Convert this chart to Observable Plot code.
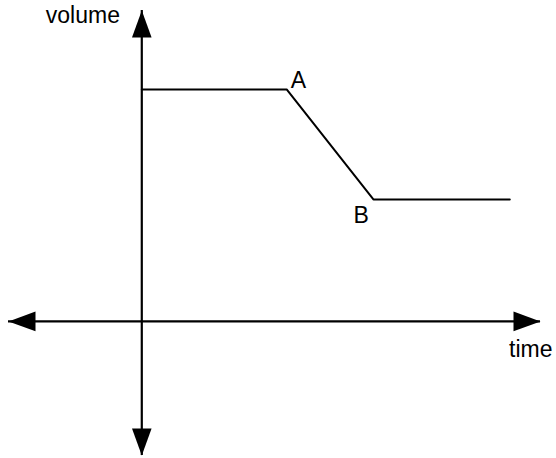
<!DOCTYPE html>
<html>
<head>
<meta charset="utf-8">
<script src="https://cdn.jsdelivr.net/npm/d3@7"></script>
<script src="https://cdn.jsdelivr.net/npm/@observablehq/plot@0.6"></script>
<style>
  html, body { margin: 0; padding: 0; background: #fff; }
  svg { display: block; }
</style>
</head>
<body>
<div id="chart"></div>
<script>
// Data (abstract units; origin where axes cross)
const times = [0, 5, 8, 12.7];
const volumes = [10, 10, 5.25, 5.25];
const pointLabels = ["", "A", "B", ""];
const timeAxis = [-4.6, 13.76];    // left arrow tip, right arrow tip
const volumeAxis = [-5.78, 13.4];  // bottom arrow tip, top arrow tip
const axisTitles = ["time", "volume"];

const series = times.map((t, i) => ({time: t, volume: volumes[i], label: pointLabels[i]}));

// Filled triangular arrowheads, tip at the anchor point
function head(dir) {
  const L = 27, W = 9.8;
  return {
    draw(ctx) {
      ctx.moveTo(0, 0);
      if (dir === "up") { ctx.lineTo(-W, L); ctx.lineTo(W, L); }
      else if (dir === "down") { ctx.lineTo(-W, -L); ctx.lineTo(W, -L); }
      else if (dir === "left") { ctx.lineTo(L, -W); ctx.lineTo(L, W); }
      else { ctx.lineTo(-L, -W); ctx.lineTo(-L, W); }
      ctx.closePath();
    }
  };
}

const font = "'Liberation Sans', Arial, Helvetica, sans-serif";

const chart = Plot.plot({
  width: 556,
  height: 458,
  marginLeft: 8,
  marginRight: 16,
  marginTop: 10,
  marginBottom: 3,
  x: {type: "linear", domain: timeAxis, axis: null},
  y: {type: "linear", domain: volumeAxis, axis: null},
  style: {fontFamily: font, background: "#fff"},
  marks: [
    // axes
    Plot.ruleX([0], {y1: volumeAxis[0], y2: volumeAxis[1], stroke: "#000", strokeWidth: 2.2}),
    Plot.ruleY([0], {x1: timeAxis[0], x2: timeAxis[1], stroke: "#000", strokeWidth: 2.2}),
    Plot.dot([{x: 0, y: volumeAxis[1]}], {x: "x", y: "y", symbol: head("up"), fill: "#000", stroke: null, r: 5}),
    Plot.dot([{x: 0, y: volumeAxis[0]}], {x: "x", y: "y", symbol: head("down"), fill: "#000", stroke: null, r: 5}),
    Plot.dot([{x: timeAxis[0], y: 0}], {x: "x", y: "y", symbol: head("left"), fill: "#000", stroke: null, r: 5}),
    Plot.dot([{x: timeAxis[1], y: 0}], {x: "x", y: "y", symbol: head("right"), fill: "#000", stroke: null, r: 5}),
    // data line
    Plot.line(series, {x: "time", y: "volume", stroke: "#000", strokeWidth: 2, strokeLinejoin: "miter"}),
    // point labels
    Plot.text(series.filter(d => d.label === "A"), {x: "time", y: "volume", text: "label", textAnchor: "start", lineAnchor: "bottom", dx: 4, dy: -1, fontSize: 23, fill: "#000"}),
    Plot.text(series.filter(d => d.label === "B"), {x: "time", y: "volume", text: "label", textAnchor: "start", lineAnchor: "bottom", dx: -20, dy: 23, fontSize: 23, fill: "#000"}),
    // axis titles
    Plot.text([axisTitles[0]], {x: timeAxis[1], y: 0, text: d => d, textAnchor: "end", lineAnchor: "bottom", dx: 12, dy: 36, fontSize: 23, fill: "#000"}),
    Plot.text([axisTitles[1]], {x: 0, y: volumeAxis[1], text: d => d, textAnchor: "start", lineAnchor: "bottom", dx: -96, dy: 12, fontSize: 23, fill: "#000", letterSpacing: "1.2px"})
  ]
});
document.getElementById("chart").appendChild(chart);
</script>
</body>
</html>
